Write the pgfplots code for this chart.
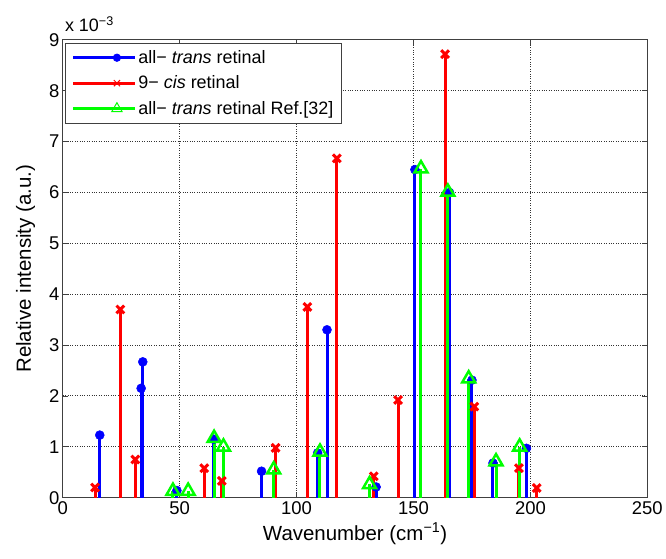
\documentclass[border=0pt]{standalone}
\usepackage{pgfplots}
\pgfplotsset{compat=1.18}
\usepackage{fontspec}
\setmainfont{Liberation Sans}
\definecolor{mblue}{RGB}{0,0,255}
\definecolor{mred}{RGB}{255,0,0}
\definecolor{mgreen}{RGB}{0,255,0}

\begin{document}
\begin{tikzpicture}
\begin{axis}[
  name=ax,
  scale only axis, width=586pt, height=459pt,
  xmin=0, xmax=250, ymin=0, ymax=9,
  xtick={0,50,...,250}, ytick={0,1,...,9},
  grid=major,
  major grid style={black!80, dotted, line width=0.9pt},
  axis line style={black!75, line width=0.8pt},
  tick style={black!75, line width=0.8pt},
  major tick length=5pt,
  tick align=inside,
  /pgf/number format/assume math mode=true,
  ticklabel style={font=\fontsize{18.5}{20}\selectfont},
  xlabel={Wavenumber (cm\textsuperscript{−1})},
  ylabel={Relative intensity (a.u.)},
  label style={font=\fontsize{20.5}{23}\selectfont},
  xlabel shift=2pt, ylabel shift=7pt,
  legend style={at={(rel axis cs:0.004,0.993)}, anchor=north west,
    draw=black!75, line width=0.8pt, font=\fontsize{18}{21}\selectfont,
    inner xsep=6pt, inner ysep=5pt, row sep=7pt},
  legend cell align=left,
  legend image code/.code={
    \path (-4pt,0pt) -- (58pt,0pt);
    \draw[#1, sharp plot, mark indices={2},
      mark options={solid, line width=1pt, scale=0.8}]
      plot coordinates {(0pt,0pt) (40pt,0pt)};
  },
]
% all-trans retinal
\addplot[ycomb, color=mblue, line width=3pt, mark=*, mark size=4.5pt,
  mark options={solid, line width=0.5pt}] coordinates {
  (15.8,1.23) (33.5,2.15) (34.2,2.67) (48.8,0.14) (64.5,1.15)
  (85,0.52) (109,0.88) (113,3.3) (134,0.21) (150.6,6.45)
  (165.4,6.0) (175,2.31) (184,0.68) (198.3,0.97)};
\addlegendentry{all− \textit{trans} retinal}
% 9-cis retinal
\addplot[ycomb, color=mred, line width=3pt, mark=x, mark size=5.5pt,
  mark options={solid, line width=3pt}] coordinates {
  (13.8,0.2) (24.6,3.7) (31,0.75) (60.5,0.58) (68,0.33)
  (91,0.98) (104.6,3.75) (117.2,6.67) (133,0.42) (143.4,1.92)
  (163.5,8.72) (176,1.79) (195.1,0.58) (202.7,0.19)};
\addlegendentry{9− \textit{cis} retinal}
% all-trans retinal Ref.[32]
\addplot[ycomb, color=mgreen, line width=3pt, mark=triangle, mark size=7.5pt,
  mark options={solid, line width=2.5pt}] coordinates {
  (47.1,0.13) (53.6,0.13) (64.7,1.17) (68.7,1.0) (90.2,0.55)
  (110,0.9) (131.2,0.26) (153.2,6.47) (164.7,6.01) (173.6,2.34)
  (185.3,0.71) (195.4,1.0)};
\addlegendentry{all− \textit{trans} retinal Ref.[32]}
\end{axis}
\node[anchor=base west, font=\fontsize{18}{20}\selectfont, inner sep=0pt,
  xshift=2pt, yshift=8pt] at (ax.north west) {x 10\textsuperscript{−3}};
\path ([xshift=-63pt, yshift=-61pt]ax.south west)
  rectangle ([xshift=17pt, yshift=40pt]ax.north east);
\end{tikzpicture}
\end{document}
